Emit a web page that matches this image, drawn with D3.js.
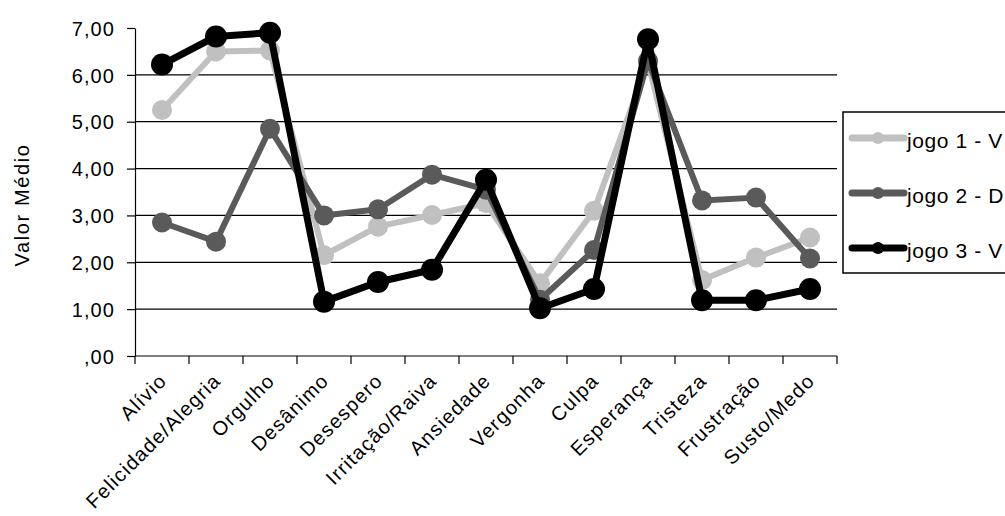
<!doctype html>
<html lang="pt">
<head>
<meta charset="utf-8">
<title>Valor Médio por emoção</title>
<script src="https://d3js.org/d3.v7.min.js"></script>
<style>
  html, body { margin: 0; padding: 0; background: #fff; overflow: hidden; }
  svg { display: block; }
  text { font-family: "Liberation Sans", Arial, sans-serif; fill: #000; }
</style>
</head>
<body>
<div id="chart"></div>
<script>
// categories and values
var categories = ["Alívio", "Felicidade/Alegria", "Orgulho", "Desânimo", "Desespero",
  "Irritação/Raiva", "Ansiedade", "Vergonha", "Culpa", "Esperança", "Tristeza",
  "Frustração", "Susto/Medo"];

var jogo1 = [5.25, 6.50, 6.52, 2.15, 2.76, 3.01, 3.26, 1.55, 3.10, 6.27, 1.62, 2.10, 2.53];
var jogo2 = [2.85, 2.44, 4.85, 3.00, 3.13, 3.87, 3.55, 1.20, 2.26, 6.30, 3.32, 3.38, 2.08];
var jogo3 = [6.22, 6.82, 6.90, 1.16, 1.58, 1.84, 3.76, 1.02, 1.43, 6.76, 1.19, 1.19, 1.43];

// legend names as far as the picture shows them
var seriesNames = ["jogo 1 - V", "jogo 2 - D", "jogo 3 - V"];
var seriesColors = ["#c0c0c0", "#5a5a5a", "#000000"];

var yTicks = [0, 1, 2, 3, 4, 5, 6, 7];
var yTickLabels = [",00", "1,00", "2,00", "3,00", "4,00", "5,00", "6,00", "7,00"];

var W = 1005, H = 516;
var plot = {left: 135, right: 837, top: 28, bottom: 356};

var svg = d3.select("#chart").append("svg")
  .attr("width", W)
  .attr("height", H);

var x = d3.scaleBand().domain(categories).range([plot.left, plot.right]);
var y = d3.scaleLinear().domain([0, 7]).range([plot.bottom, plot.top]);

// gridlines (not at the top value)
svg.append("g").selectAll("line")
  .data(yTicks.filter(function(d) { return d > 0 && d < 7; }))
  .enter().append("line")
  .attr("x1", plot.left).attr("x2", plot.right)
  .attr("y1", function(d) { return y(d); })
  .attr("y2", function(d) { return y(d); })
  .attr("stroke", "#000").attr("stroke-width", 1.2);

// y axis
var yAxis = d3.axisLeft(y)
  .tickValues(yTicks)
  .tickFormat(function(d, i) { return yTickLabels[i]; })
  .tickSize(8)
  .tickSizeOuter(0)
  .tickPadding(12);

var yg = svg.append("g")
  .attr("transform", "translate(" + plot.left + ",0)")
  .call(yAxis);
yg.select(".domain").attr("stroke", "#000").attr("stroke-width", 1.2);
yg.selectAll(".tick line").attr("stroke", "#000").attr("stroke-width", 1.2);
yg.selectAll(".tick text")
  .attr("font-family", "Liberation Sans, Arial, sans-serif")
  .attr("font-size", 20)
  .attr("letter-spacing", "1.1px")
  .attr("dy", "0.36em");

// x axis: line, ticks at band edges, rotated labels
svg.append("line")
  .attr("x1", plot.left).attr("x2", plot.right)
  .attr("y1", plot.bottom).attr("y2", plot.bottom)
  .attr("stroke", "#000").attr("stroke-width", 1.2);

var edges = categories.map(function(c) { return x(c); }).concat([x.range()[1]]);
svg.append("g").selectAll("line")
  .data(edges)
  .enter().append("line")
  .attr("x1", function(d) { return d; }).attr("x2", function(d) { return d; })
  .attr("y1", plot.bottom).attr("y2", plot.bottom + 8)
  .attr("stroke", "#000").attr("stroke-width", 1.2);

svg.append("g").selectAll("text")
  .data(categories)
  .enter().append("text")
  .attr("transform", function(d) {
    return "translate(" + (x(d) + x.bandwidth() / 2 + 6) + "," + 382 + ") rotate(-45)";
  })
  .attr("text-anchor", "end")
  .attr("font-size", 20)
  .attr("letter-spacing", "1.2px")
  .text(function(d) { return d; });

// y axis title
svg.append("text")
  .attr("transform", "translate(29," + 205 + ") rotate(-90)")
  .attr("text-anchor", "middle")
  .attr("font-size", 20)
  .attr("letter-spacing", "1.6px")
  .text("Valor Médio");

// series
var allSeries = [jogo1, jogo2, jogo3];
var widths = [6, 6, 7];
var radii = [10, 10, 11];

var line = d3.line()
  .x(function(d, i) { return x(categories[i]) + x.bandwidth() / 2; })
  .y(function(d) { return y(d); });

allSeries.forEach(function(values, s) {
  var g = svg.append("g");
  g.append("path")
    .datum(values)
    .attr("d", line)
    .attr("fill", "none")
    .attr("stroke", seriesColors[s])
    .attr("stroke-width", widths[s])
    .attr("stroke-linejoin", "round");
  g.selectAll("circle")
    .data(values)
    .enter().append("circle")
    .attr("cx", function(d, i) { return x(categories[i]) + x.bandwidth() / 2; })
    .attr("cy", function(d) { return y(d); })
    .attr("r", radii[s])
    .attr("fill", seriesColors[s]);
});

// legend (box runs off the right edge, as in the picture)
var legend = svg.append("g");
legend.append("rect")
  .attr("x", 843).attr("y", 112)
  .attr("width", 220).attr("height", 161)
  .attr("fill", "#fff")
  .attr("stroke", "#000").attr("stroke-width", 1.5);

var items = legend.selectAll("g.item")
  .data(seriesNames)
  .enter().append("g")
  .attr("class", "item")
  .attr("transform", function(d, i) { return "translate(0," + (138 + i * 55) + ")"; });

items.append("line")
  .attr("x1", 852).attr("x2", 904)
  .attr("y1", 0).attr("y2", 0)
  .attr("stroke", function(d, i) { return seriesColors[i]; })
  .attr("stroke-width", 7)
  .attr("stroke-linecap", "round");
items.append("circle")
  .attr("cx", 878).attr("cy", 0).attr("r", 6)
  .attr("fill", function(d, i) { return seriesColors[i]; });
items.append("text")
  .attr("x", 907).attr("y", 9.5)
  .attr("font-size", 21)
  .attr("letter-spacing", "0.6px")
  .text(function(d) { return d; });
</script>
</body>
</html>
